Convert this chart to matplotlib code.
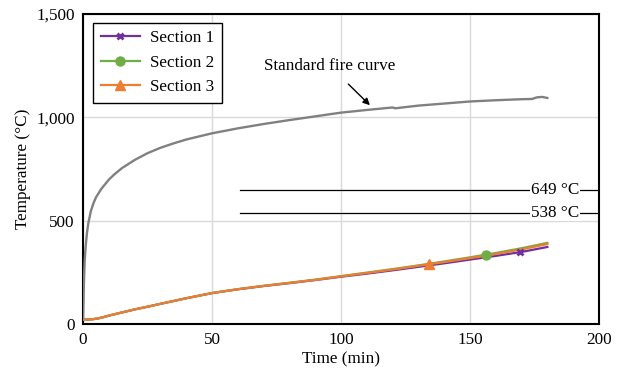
import matplotlib
matplotlib.use("Agg")
import matplotlib.pyplot as plt
from matplotlib.lines import Line2D
from matplotlib.ticker import FuncFormatter, MultipleLocator
import numpy as np

plt.rcParams['font.family'] = ['Liberation Serif', 'DejaVu Serif']

# Standard fire curve
fire_t = [0, 0.3, 0.6, 1, 1.5, 2, 3, 4, 5, 7, 10, 12, 15, 20, 25, 30, 35, 40, 50, 60, 70, 80, 90,
          100, 110, 120, 121, 130, 140, 150, 160, 170, 174, 176, 178, 180]
fire_T = [20, 190, 300, 375, 440, 485, 545, 583, 612, 652, 698, 722, 753, 793, 826, 852, 873, 892,
          922, 946, 967, 986, 1004, 1022, 1035, 1047, 1043, 1056, 1066, 1076, 1082, 1087, 1088,
          1096, 1098, 1093]

# Section curves
sec_t = [0, 2, 4, 6, 8, 10, 15, 20, 25, 30, 40, 50, 60, 70, 80, 90, 100, 110, 120, 130, 140, 150,
         160, 170, 180]
sec1_T = [20, 21, 23, 27, 33, 40, 55, 70, 83, 97, 124, 149, 167, 183, 197, 212, 228, 243, 259,
          276, 293, 311, 329, 348, 372]
sec2_T = [20, 21, 23, 27, 33, 40, 55, 70, 83, 97, 124, 149, 168, 184, 199, 214, 231, 248, 265,
          283, 302, 322, 343, 366, 392]
sec3_T = [20, 21, 23, 27, 33, 40, 55, 70, 83, 97, 124, 149, 168, 184, 198, 213, 230, 246, 263,
          281, 299, 318, 338, 360, 386]

labels = ["Section 1", "Section 2", "Section 3"]
colors = ["#7030A0", "#70AD47", "#ED7D31"]
markers = ["x", "o", "^"]
marker_sizes = [5, 6.5, 6.5]
marker_t = [169.4, 156.4, 134.2]

limits = [649, 538]
limit_labels = ["649 °C", "538 °C"]

FS = 12.3

fig = plt.figure(figsize=(6.2, 3.74), dpi=100)
ax = fig.add_axes([0.134, 0.134, 0.832, 0.829])

ax.set_xlim(0, 200)
ax.set_ylim(0, 1500)
ax.xaxis.set_major_locator(MultipleLocator(50))
ax.yaxis.set_major_locator(MultipleLocator(500))
ax.yaxis.set_major_formatter(FuncFormatter(lambda v, p: f"{int(v):,}"))
ax.grid(True, color="#d9d9d9", linewidth=1.0)
ax.set_axisbelow(True)
ax.tick_params(length=0, labelsize=FS, pad=6)
for s in ax.spines.values():
    s.set_color("black")
    s.set_linewidth(1.5)

ax.plot(fire_t, fire_T, color="#808080", linewidth=1.7, zorder=3)

handles = []
for T, lab, c, m, ms, mt in zip([sec1_T, sec2_T, sec3_T], labels, colors, markers, marker_sizes, marker_t):
    ax.plot(sec_t, T, color=c, linewidth=1.6, zorder=4)
    mv = np.interp(mt, sec_t, T)
    ax.plot([mt], [mv], linestyle="none", marker=m, color=c, markersize=ms,
            markeredgewidth=2 if m == "x" else 1, zorder=5)
    handles.append(Line2D([], [], color=c, linewidth=1.6, marker=m, markersize=ms,
                          markeredgewidth=2 if m == "x" else 1, label=lab))

for v, lab in zip(limits, limit_labels):
    ax.plot([61, 200], [v, v], color="black", linewidth=0.9, zorder=3)
    ax.text(183, v, lab, ha="center", va="center", fontsize=FS, zorder=6,
            bbox=dict(facecolor="white", edgecolor="none", pad=0.5))

ax.annotate("Standard fire curve", xy=(111.2, 1058), xytext=(95.5, 1250),
            ha="center", va="center", fontsize=FS,
            arrowprops=dict(arrowstyle="-|>", color="black", linewidth=1.0,
                            shrinkA=8, shrinkB=0, mutation_scale=10))

leg = ax.legend(handles=handles, loc="upper left", bbox_to_anchor=(0.019, 0.972),
                borderaxespad=0, fontsize=FS, fancybox=False, framealpha=1,
                edgecolor="black", handlelength=2.3, handletextpad=0.6,
                labelspacing=0.5, borderpad=0.45)
leg.get_frame().set_linewidth(1.0)

ax.set_xlabel("Time (min)", fontsize=FS, labelpad=2)
ax.set_ylabel("Temperature (°C)", fontsize=FS, labelpad=4)

fig.savefig("out.png", dpi=100)
